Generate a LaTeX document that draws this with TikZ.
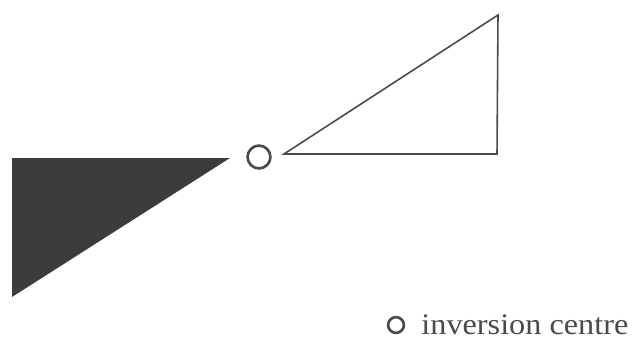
\documentclass[tikz,border=0pt]{standalone}
\usepackage{fontspec}
\setmainfont{Liberation Serif}
\usetikzlibrary{positioning}
\definecolor{inkgray}{HTML}{4A4A4A}
\definecolor{solidgray}{HTML}{3C3C3C}

\begin{document}
\begin{tikzpicture}[x=0.02cm, y=-0.02cm, node distance=5pt]
            \tikzset{centremark/.style={circle, draw=inkgray, line width=1.5pt, fill=white, inner sep=0pt}}
            \useasboundingbox (0,0) rectangle (632,348);
            % open triangle
            \coordinate (a1) at (284,154);
            \coordinate (a2) at (497,154);
            \coordinate (a3) at (498,15);
            \draw[inkgray, line width=0.9pt] (a1) -- (a2) -- (a3) -- cycle;
            % inverted (filled) triangle
            \coordinate (b1) at (230,158);
            \coordinate (b2) at (12,158);
            \coordinate (b3) at (12,297);
            \fill[solidgray] (b1) -- (b2) -- (b3) -- cycle;
            % centre of inversion
            \node[centremark, minimum size=13pt] (centre) at (259,157) {};
            \node[centremark, minimum size=9pt] (legsym) at (396,325) {};
            \node[right=9pt of legsym, inner sep=0pt, text=inkgray, font=\fontsize{17}{17}\selectfont, xscale=1.08] (legtext) {inversion centre};
        \end{tikzpicture}
\end{document}
